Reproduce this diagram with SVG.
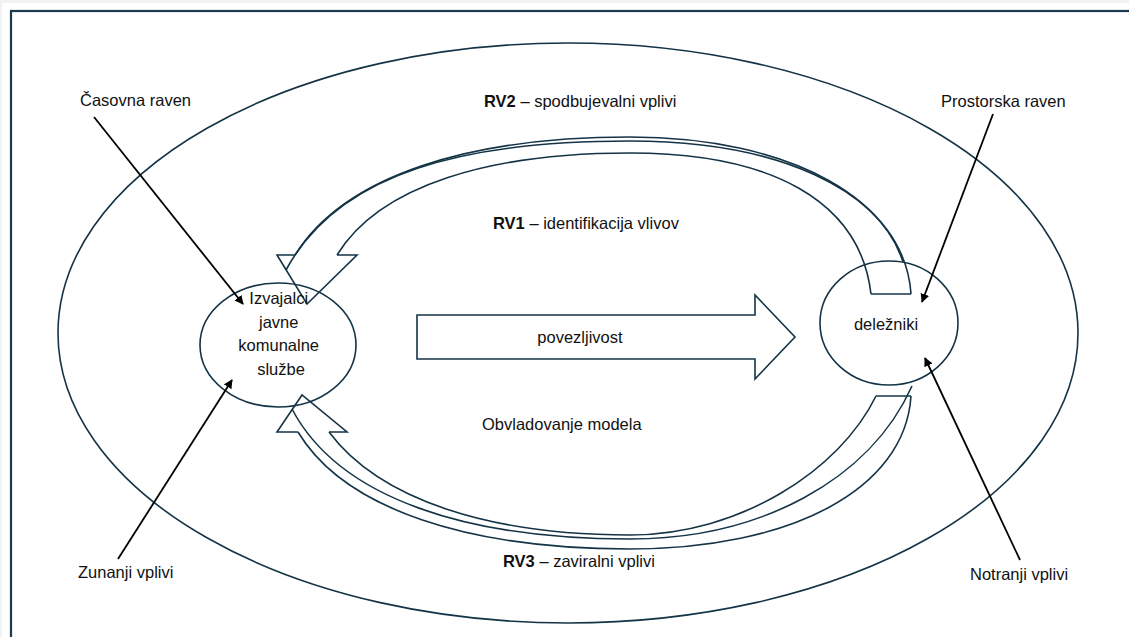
<svg xmlns="http://www.w3.org/2000/svg" width="1129" height="637" viewBox="0 0 1129 637">
  <defs>
    <style>
      .shape { fill: none; stroke: #143446; stroke-width: 1.6; stroke-linejoin: miter; }
      .pointer { fill: none; stroke: #000000; stroke-width: 1.8; }
      .label { font-family: "Liberation Sans", Arial, sans-serif; font-size: 16.5px; fill: #111111; }
      .strong { font-weight: bold; }
    </style>
    <marker id="tip" viewBox="0 0 10 10" refX="9" refY="5" markerWidth="9" markerHeight="9" markerUnits="userSpaceOnUse" orient="auto">
      <path d="M0,0 L10,5 L0,10 Z" fill="#000000"/>
    </marker>
  </defs>

  <!-- page and frame -->
  <rect x="0" y="0" width="1129" height="637" fill="#f2f2f2"/>
  <rect x="2" y="3" width="1127" height="634" fill="#ffffff"/>
  <rect x="11" y="11" width="1140" height="650" fill="none" stroke="#1b3a4b" stroke-width="2.2"/>

  <!-- outer boundary -->
  <g id="boundary">
    <ellipse cx="568" cy="333" rx="510" ry="290" class="shape"/>
  </g>

  <!-- curved arrow RV2 / RV1 (top) -->
  <g id="arc-top">
    <path class="shape" d="M295,255 C345,175 470,137 630,137 C790,137 905,200 911,294"/>
    <path class="shape" d="M286,270 C340,170 470,141 630,141 C780,141 880,190 903,262"/>
    <path class="shape" d="M337,255 C380,185 490,153 630,153 C770,153 860,200 871,294"/>
    <path class="shape" d="M871,294 L911,294"/>
    <path class="shape" d="M295,255 L277,255 L307,304 L357,255 L337,255"/>
  </g>

  <!-- curved arrow RV3 (bottom) -->
  <g id="arc-bottom">
    <path class="shape" d="M298,432 C345,510 470,549 630,549 C790,549 905,490 911,396"/>
    <path class="shape" d="M292,409 C340,500 470,539 630,539 C760,539 870,480 912,386"/>
    <path class="shape" d="M329,432 C380,500 490,535 630,535 C740,535 840,470 876,396"/>
    <path class="shape" d="M876,396 L911,396"/>
    <path class="shape" d="M298,432 L277,432 L302,395 L347,432 L329,432"/>
  </g>

  <!-- block arrow: povezljivost -->
  <g id="link">
    <path class="shape" d="M417,315 L755,315 L755,295 L795,337 L755,379 L755,359 L417,359 Z"/>
    <text class="label" x="580" y="343" text-anchor="middle">povezljivost</text>
  </g>

  <!-- nodes -->
  <g id="providers">
    <ellipse cx="278" cy="345" rx="78" ry="62" class="shape"/>
    <text class="label" text-anchor="middle">
      <tspan x="281" y="304">Izvajalci</tspan>
      <tspan x="281" y="328">javne</tspan>
      <tspan x="281" y="351">komunalne</tspan>
      <tspan x="281" y="375">službe</tspan>
    </text>
  </g>
  <g id="stakeholders">
    <ellipse cx="889" cy="323" rx="69" ry="62" class="shape"/>
    <text class="label" x="886" y="330" text-anchor="middle">deležniki</text>
  </g>

  <!-- level labels -->
  <g id="labels">
    <text class="label" x="80" y="106">Časovna raven</text>
    <text class="label" x="484" y="107"><tspan class="strong">RV2</tspan> – spodbujevalni vplivi</text>
    <text class="label" x="941" y="107">Prostorska raven</text>
    <text class="label" x="493" y="229"><tspan class="strong">RV1</tspan> – identifikacija vlivov</text>
    <text class="label" x="482" y="430">Obvladovanje modela</text>
    <text class="label" x="503" y="567"><tspan class="strong">RV3</tspan> – zaviralni vplivi</text>
    <text class="label" x="78" y="578">Zunanji vplivi</text>
    <text class="label" x="970" y="580">Notranji vplivi</text>
  </g>

  <!-- pointers from labels -->
  <g id="connectors">
    <line class="pointer" x1="94" y1="117" x2="243" y2="304" marker-end="url(#tip)"/>
    <line class="pointer" x1="993" y1="114" x2="922" y2="302" marker-end="url(#tip)"/>
    <line class="pointer" x1="118" y1="559" x2="232" y2="380" marker-end="url(#tip)"/>
    <line class="pointer" x1="1020" y1="560" x2="925" y2="358" marker-end="url(#tip)"/>
  </g>
</svg>
